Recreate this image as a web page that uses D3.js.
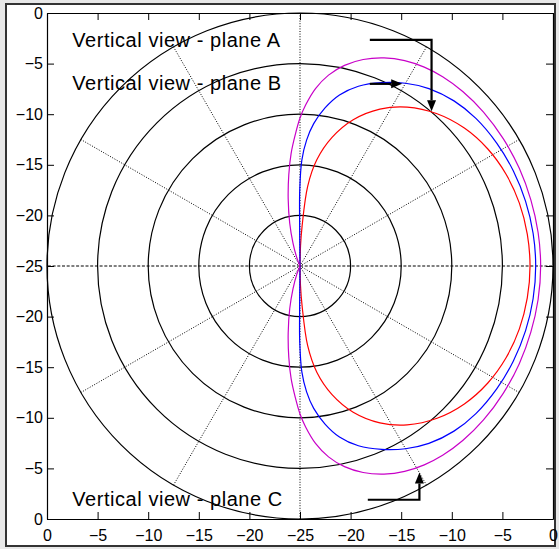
<!DOCTYPE html>
<html>
<head>
<meta charset="utf-8">
<script src="https://cdn.jsdelivr.net/npm/d3@7"></script>
<style>
  html, body { margin: 0; padding: 0; background: #e8e8e8; }
  svg { display: block; font-family: 'Liberation Sans', Arial, sans-serif; }
</style>
</head>
<body>
<svg id="chart" width="559" height="549"></svg>
<script>
// polar pattern values, angle in degrees (0 = right, counter-clockwise), level in dB
const RED_ANGLES = [-90, -88.5, -87, -84.5, -81, -76, -70, -63, -56, -48, -40, -32, -24, -16, -8, 0,
  8, 16, 24, 32, 40, 48, 56, 63, 70, 76, 81, 84.5, 87, 88.5, 90];
const RED_DB = [-25, -23.02, -21.05, -17.09, -14.38, -11.91, -9.63, -7.61, -6.07, -4.76, -3.80, -3.14, -2.71, -2.45, -2.32, -2.27,
  -2.32, -2.45, -2.71, -3.14, -3.80, -4.76, -6.07, -7.61, -9.63, -11.91, -14.38, -17.09, -21.05, -23.02, -25];

const BLUE_ANGLES = [-92, -90.5, -90.2, -89, -87, -84.5, -81, -77, -72, -66, -60, -54, -47, -40, -32, -24, -16, -8, 0,
  8, 16, 24, 32, 40, 47, 54, 60, 66, 72, 77, 81, 84.5, 87, 89, 90.2, 90.5, 92];
const BLUE_DB = [-25, -20.55, -17.49, -14.53, -12.55, -10.87, -9.19, -7.66, -6.32, -5.16, -4.15, -3.33, -2.69, -2.31, -2.08, -1.92, -1.81, -1.74, -1.71,
  -1.74, -1.81, -1.92, -2.08, -2.31, -2.69, -3.33, -4.15, -5.16, -6.32, -7.66, -9.19, -10.87, -12.55, -14.53, -17.49, -20.55, -25];

const MAGENTA_ANGLES = [-115, -111, -107, -103.5, -100, -97, -94.5, -92, -90, -88, -85, -81.5, -77.5, -73, -68, -63, -58, -53, -47, -40, -32, -24, -16, -8, 0,
  8, 16, 24, 32, 40, 47, 53, 58, 63, 68, 73, 77.5, 81.5, 85, 88, 90, 92, 94.5, 97, 100, 103.5, 107, 111, 115];
const MAGENTA_DB = [-25, -24.11, -22.63, -20.65, -18.28, -15.91, -13.83, -11.96, -10.38, -9.09, -7.41, -5.93, -4.69, -3.66, -2.82, -2.22, -1.83, -1.58, -1.42, -1.33, -1.30, -1.28, -1.27, -1.24, -1.22,
  -1.24, -1.27, -1.28, -1.30, -1.33, -1.42, -1.58, -1.83, -2.22, -2.82, -3.66, -4.69, -5.93, -7.41, -9.09, -10.38, -11.96, -13.83, -15.91, -18.28, -20.65, -22.63, -24.11, -25];

const GRID_LEVELS = [-20, -15, -10, -5, 0];
const GRID_ANGLES = [0, 30, 60, 90, 120, 150, 180, 210, 240, 270, 300, 330];
const AXIS_TICKS = [-25, -20, -15, -10, -5, 0, 5, 10, 15, 20, 25];

const LABELS = ['Vertical view - plane A', 'Vertical view - plane B', 'Vertical view - plane C'];
const LABEL_POS = [[-22.5, 21.6], [-22.5, 17.35], [-22.5, -23.7]];
const ARROW_PATHS = [
  [[6.9, 22.35], [13.0, 22.35], [13.0, 15.3]],
  [[6.9, 18.0], [10.1, 18.0]],
  [[6.7, -23.1], [11.8, -23.1], [11.8, -20.4]]
];

(function () {
  const svg = d3.select('#chart');
  const COLORS = { red: '#ff0000', blue: '#0000ff', magenta: '#c800c8' };

  const x = d3.scaleLinear().domain([-25, 25]).range([47, 553]);
  const y = d3.scaleLinear().domain([-25, 25]).range([519, 13]);
  const r = d3.scaleLinear().domain([-25, 0]).range([0, x(25) - x(0)]);
  const cx = x(0);
  const cy = y(0);
  const fmt = d3.format('d');

  // frame
  svg.append('rect')
    .attr('x', 6).attr('y', 4)
    .attr('width', 549).attr('height', 542)
    .attr('fill', '#fff')
    .attr('stroke', '#333')
    .attr('stroke-width', 2);

  const polar = svg.append('g').attr('transform', 'translate(' + cx + ',' + cy + ')');

  // radial dotted lines
  polar.selectAll('line.spoke')
    .data(GRID_ANGLES)
    .join('line')
    .attr('class', 'spoke')
    .attr('x1', 0).attr('y1', 0)
    .attr('x2', d => r(0) * Math.cos(d * Math.PI / 180))
    .attr('y2', d => -r(0) * Math.sin(d * Math.PI / 180))
    .attr('stroke', '#000')
    .attr('stroke-width', 1)
    .attr('stroke-dasharray', d => (d % 180 === 0) ? '3,1.7' : '1,1.6');

  // level circles
  polar.selectAll('circle.level')
    .data(GRID_LEVELS)
    .join('circle')
    .attr('class', 'level')
    .attr('r', d => r(d))
    .attr('fill', 'none')
    .attr('stroke', '#000')
    .attr('stroke-width', 1.2);

  function toPoints (angles, values) {
    return angles.map(function (a, i) { return { angle: a, db: values[i] }; });
  }

  const radial = d3.lineRadial()
    .angle(d => (90 - d.angle) * Math.PI / 180)
    .radius(d => r(Math.max(d.db, -25)))
    .curve(d3.curveCatmullRom.alpha(0.5));

  const series = [
    { pts: toPoints(RED_ANGLES, RED_DB), color: COLORS.red },
    { pts: toPoints(BLUE_ANGLES, BLUE_DB), color: COLORS.blue },
    { pts: toPoints(MAGENTA_ANGLES, MAGENTA_DB), color: COLORS.magenta }
  ];

  polar.selectAll('path.pattern')
    .data(series)
    .join('path')
    .attr('class', 'pattern')
    .attr('d', d => radial(d.pts))
    .attr('fill', 'none')
    .attr('stroke', d => d.color)
    .attr('stroke-width', 1.2);

  // axes: labels show the level (0 at the edge, -25 at the centre)
  const label = v => fmt(Math.abs(v) - 25);

  function styleAxis (g) {
    g.selectAll('.domain').attr('stroke', '#000').attr('stroke-width', 1.2);
    g.selectAll('.tick line').attr('stroke', '#000');
    g.selectAll('.tick text').attr('font-size', 16).attr('fill', '#000')
      .attr('font-family', "'Liberation Sans', Arial, sans-serif");
  }

  svg.append('g')
    .attr('transform', 'translate(0,' + y(-25) + ')')
    .call(d3.axisBottom(x).tickValues(AXIS_TICKS).tickFormat(label).tickSize(-7).tickSizeOuter(0).tickPadding(11))
    .call(styleAxis);

  svg.append('g')
    .attr('transform', 'translate(0,' + y(25) + ')')
    .call(d3.axisTop(x).tickValues(AXIS_TICKS).tickFormat('').tickSize(-7).tickSizeOuter(0))
    .call(styleAxis);

  svg.append('g')
    .attr('transform', 'translate(' + x(-25) + ',0)')
    .call(d3.axisLeft(y).tickValues(AXIS_TICKS).tickFormat(label).tickSize(-7).tickSizeOuter(0).tickPadding(4))
    .call(styleAxis);

  svg.append('g')
    .attr('transform', 'translate(' + x(25) + ',0)')
    .call(d3.axisRight(y).tickValues(AXIS_TICKS).tickFormat('').tickSize(-7).tickSizeOuter(0))
    .call(styleAxis);

  // annotations
  svg.selectAll('text.note')
    .data(LABELS)
    .join('text')
    .attr('class', 'note')
    .attr('x', (d, i) => x(LABEL_POS[i][0]))
    .attr('y', (d, i) => y(LABEL_POS[i][1]))
    .attr('font-size', 20)
    .attr('letter-spacing', 0.55)
    .attr('fill', '#000')
    .text(d => d);

  const headLen = 11;
  const headHalf = 4.5;
  ARROW_PATHS.forEach(function (path) {
    const pts = path.map(p => [x(p[0]), y(p[1])]);
    const tip = pts[pts.length - 1];
    const prev = pts[pts.length - 2];
    const len = Math.hypot(tip[0] - prev[0], tip[1] - prev[1]);
    const ux = (tip[0] - prev[0]) / len;
    const uy = (tip[1] - prev[1]) / len;
    const base = [tip[0] - ux * headLen, tip[1] - uy * headLen];
    const shaft = pts.slice(0, -1).concat([base]);

    svg.append('path')
      .attr('d', d3.line()(shaft))
      .attr('fill', 'none')
      .attr('stroke', '#000')
      .attr('stroke-width', 2.2);

    svg.append('path')
      .attr('d', d3.line()([
        tip,
        [base[0] - uy * headHalf, base[1] + ux * headHalf],
        [base[0] + uy * headHalf, base[1] - ux * headHalf]
      ]) + 'Z')
      .attr('fill', '#000');
  });
}());
</script>
</body>
</html>
